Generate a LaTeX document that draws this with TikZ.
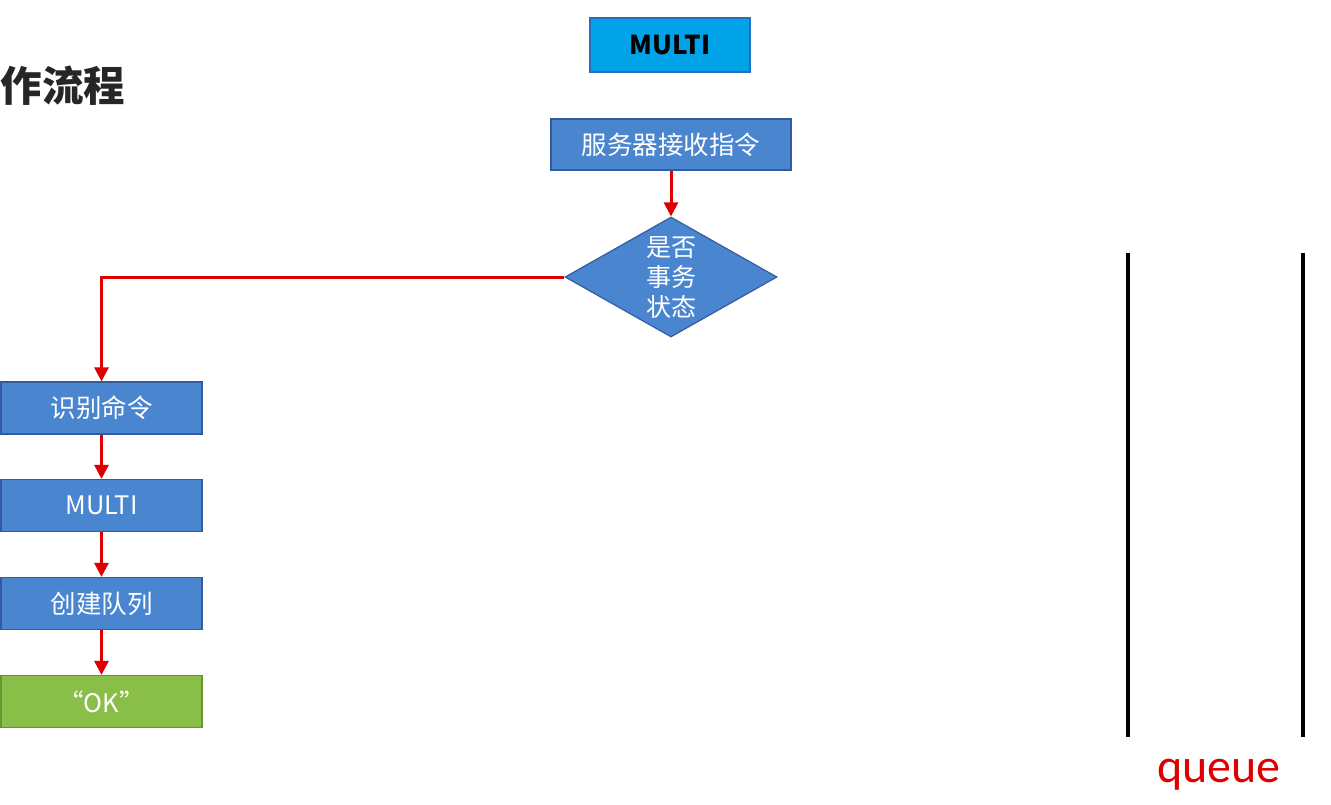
\documentclass[tikz,border=0pt]{standalone}
\usepackage{fontspec}
\setmainfont{Noto Sans CJK SC}
\newfontfamily\queuefont{Carlito}
\usetikzlibrary{shapes,shapes.geometric,arrows.meta}
\definecolor{boxblue}{RGB}{74,134,208}
\definecolor{boxline}{RGB}{52,90,160}
\definecolor{topblue}{RGB}{0,162,232}
\definecolor{topline}{RGB}{40,110,190}
\definecolor{okgreen}{RGB}{137,190,72}
\definecolor{okline}{RGB}{100,150,50}
\definecolor{flowred}{RGB}{222,0,0}
\tikzset{
  proc/.style={
      draw=boxline,
      fill=boxblue,
      text=white,
      rectangle,
      line width=1.2pt,
      inner sep=0pt,
      minimum width=201pt,
      minimum height=52pt,
      font=\fontsize{25.5}{28}\selectfont
  },
  decide/.style={
      proc,
      diamond,
      aspect=1.77,
      minimum width=212pt,
      minimum height=120pt,
      align=center,
      font=\fontsize{25}{30}\selectfont
  },
  flow/.style={
      draw=flowred,
      line width=3pt,
      -{Triangle[length=14pt,width=14pt]}
  }
}

\begin{document}
\begin{tikzpicture}[x=1pt,y=-1pt]
    \useasboundingbox[fill=white] (0,0) rectangle (1331,804);
    \node[anchor=west,font=\fontsize{41.5}{45}\selectfont\bfseries,text=black!85] (title) at (-3,86) {作流程};
    \node[proc,fill=topblue,draw=topline,text=black,minimum width=160pt,minimum height=54pt,
          font=\fontsize{26}{30}\selectfont\bfseries] (top) at (670,45) {MULTI};
    \node[proc,minimum width=240pt,minimum height=51pt] (recv) at (671,144.5) {服务器接收指令};
    \node[decide] (judge) at (671,277) {是否\\事务\\状态};
    \node[proc] (ident) at (101.5,408) {识别命令};
    \node[proc] (multi) at (101.5,505.5) {MULTI};
    \node[proc] (create) at (101.5,603.5) {创建队列};
    \node[proc,fill=okgreen,draw=okline] (ok) at (101.5,701.5) {“OK”};
    % arrows
    \draw[flow] (recv) -- (judge);
    \draw[flow] (judge.west) -| (ident.north);
    \draw[flow] (ident) -- (multi);
    \draw[flow] (multi) -- (create);
    \draw[flow] (create) -- (ok);
    % the queue
    \draw[line width=3.5pt] (1128,253) -- (1128,737);
    \draw[line width=3.5pt] (1303,253) -- (1303,737);
    \node[text=flowred,font=\queuefont\fontsize{48}{52}\selectfont] (queue) at (1219,775) {queue};
\end{tikzpicture}
\end{document}
